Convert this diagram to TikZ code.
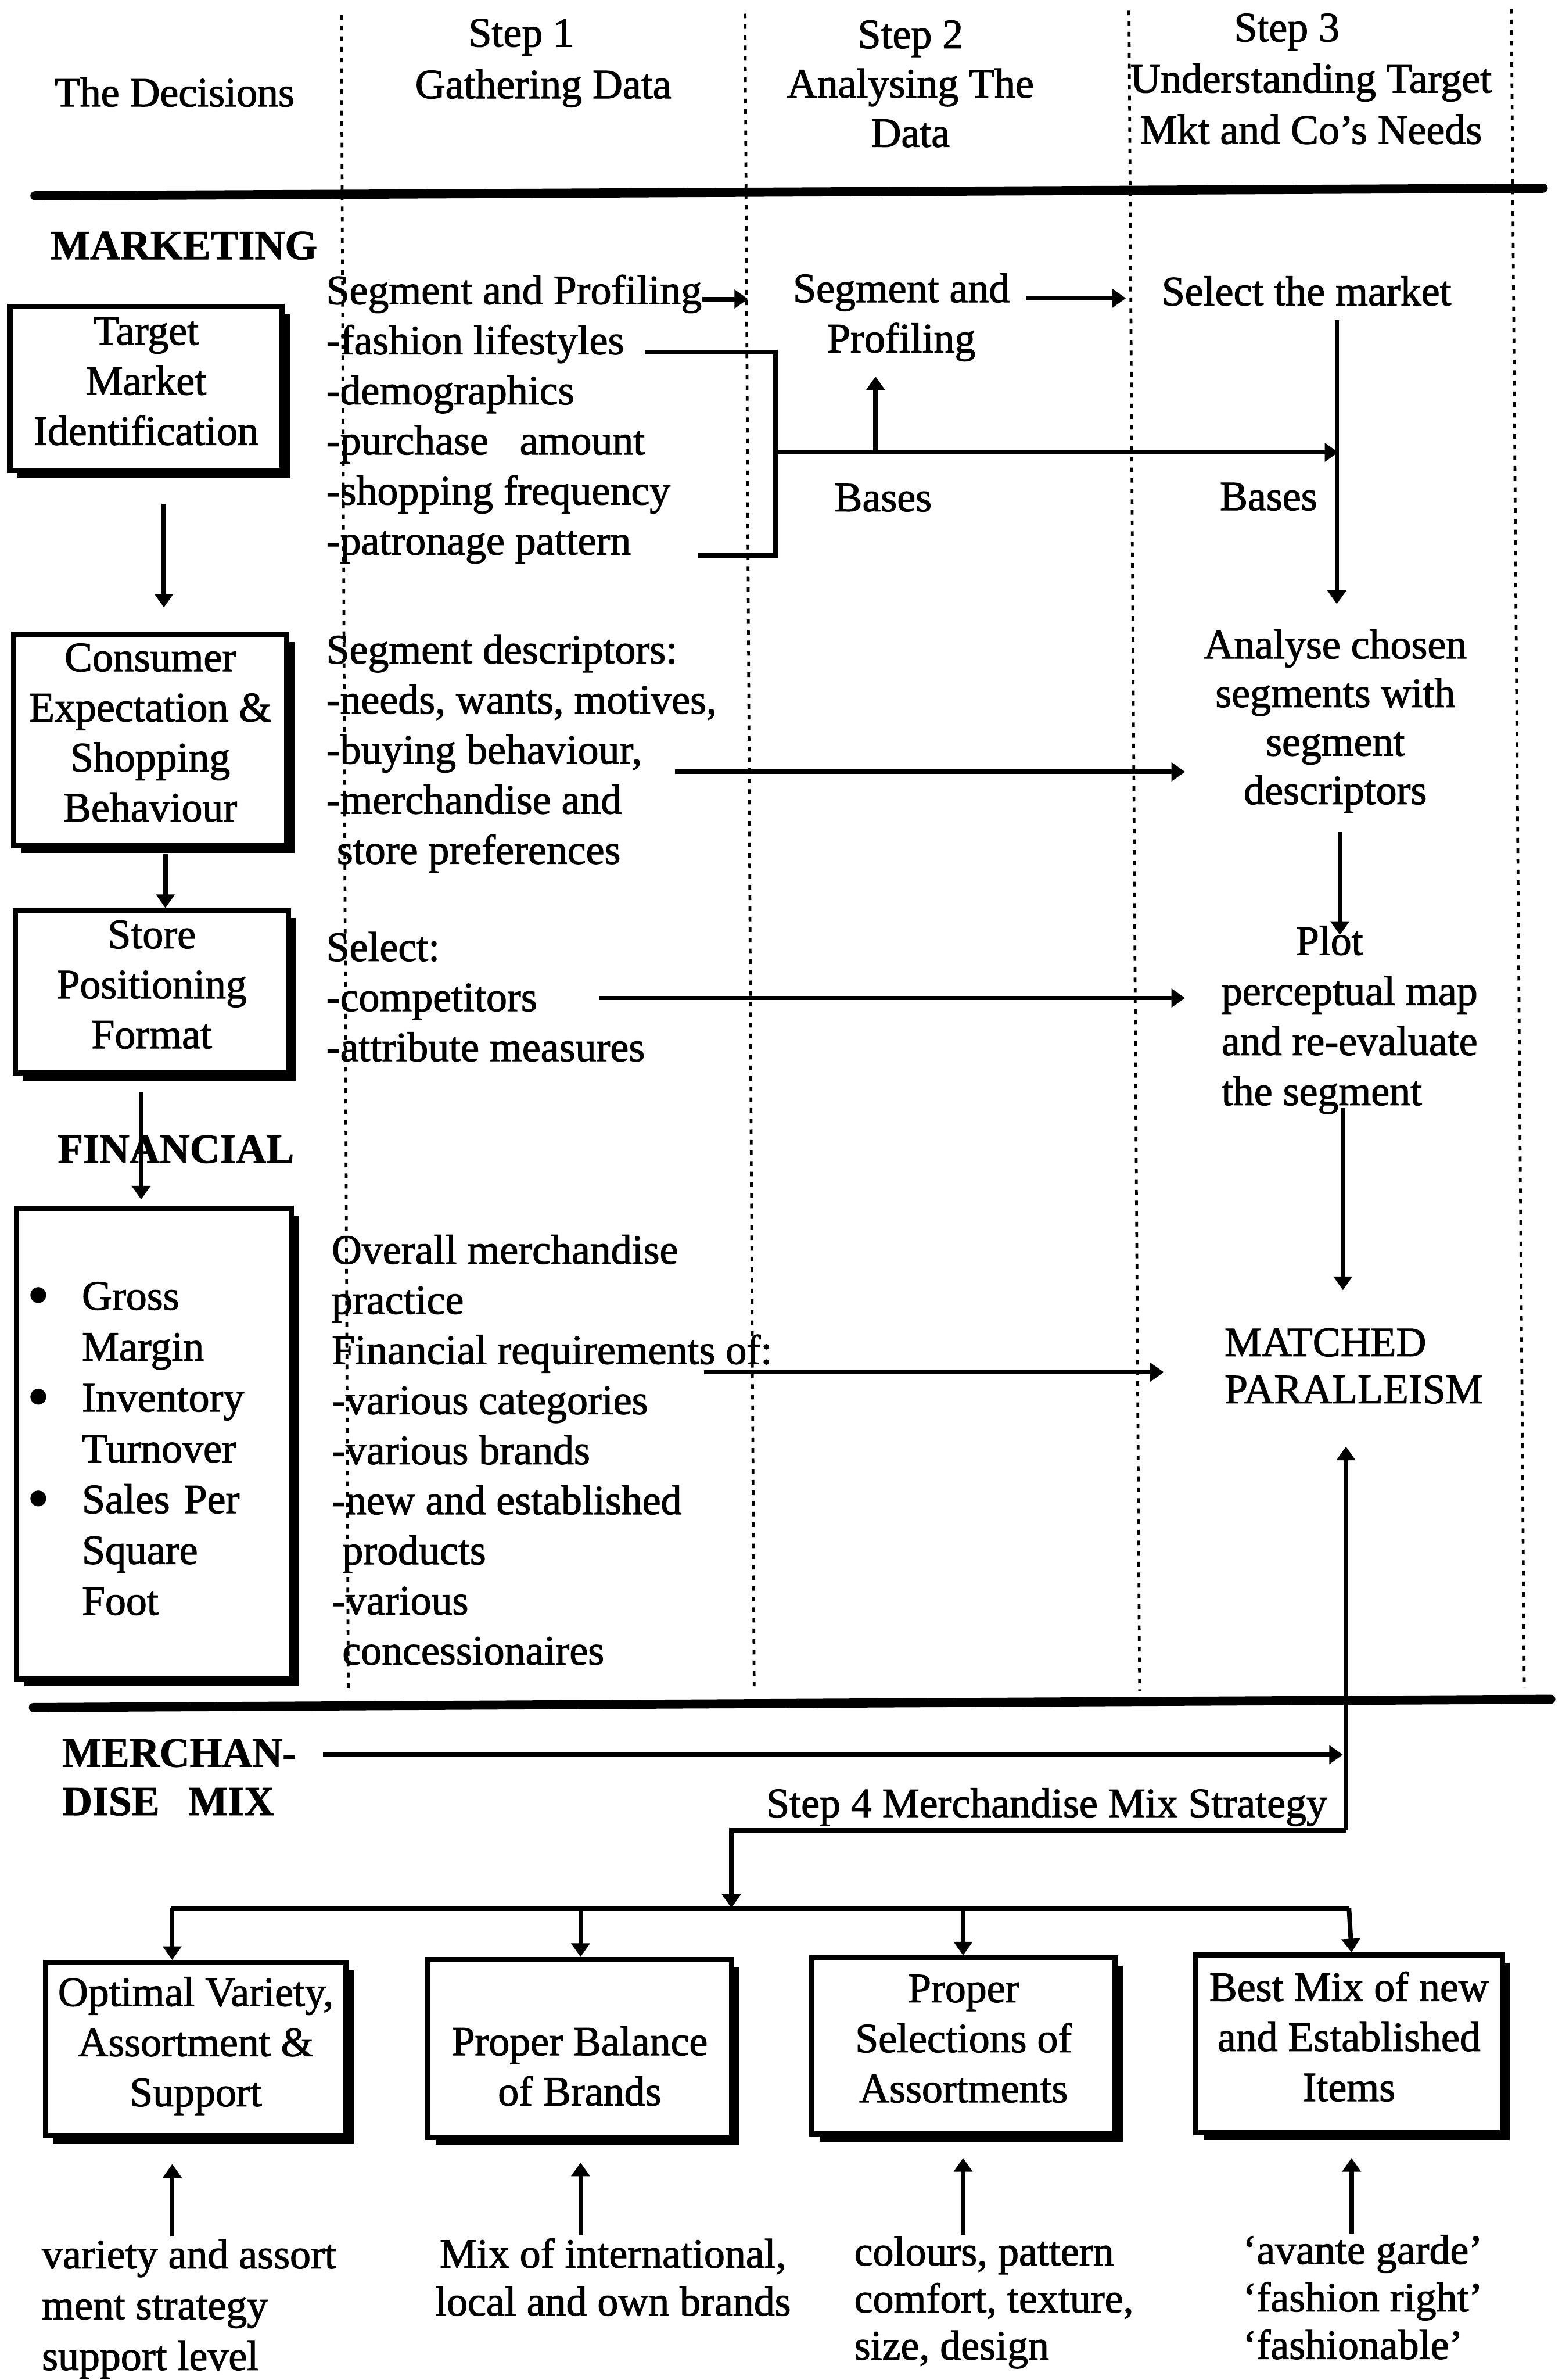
\documentclass[tikz,border=0pt]{standalone}
\usepackage{fontspec}
\setmainfont{Liberation Serif}[UprightFeatures={FakeBold=1.5},BoldFeatures={FakeBold=1}]
\usetikzlibrary{arrows.meta,shadows}
% body size with a chosen line spacing
\newcommand\fsz[1]{\fontsize{27.5}{#1}\selectfont}
\newcommand\bulmark{\makebox[36.5pt][l]{\hspace{0.5pt}\raisebox{-4pt}{\scalebox{1.5}{\textbullet}}}}
\newcommand\bulgap{\hspace*{36.5pt}}

\begin{document}
\begin{tikzpicture}[x=1pt, y=-1pt,
  txt/.style={inner sep=0pt, outer sep=0pt, align=left, anchor=north west,
              font=\fsz{33}, execute at begin node=\strut},
  ctxt/.style={txt, align=center, anchor=north},
  hd/.style={font={\fsz{33}\bfseries}},
  frame/.style={draw, fill=white, line width=3.5pt, inner sep=0pt,
                drop shadow={shadow xshift=5pt, shadow yshift=-5pt, fill=black, opacity=1}},
  box/.style={frame, align=center, font=\fsz{33},
              execute at begin node=\strut, execute at end node=\strut},
  sep/.style={line width=6pt, line cap=round},
  col/.style={line width=1.8pt, dash pattern=on 3pt off 4pt},
  ln/.style={line width=3pt},
  arr/.style={ln, -{Triangle[length=9pt,width=12pt]}},
]
\useasboundingbox (0,0) rectangle (1029,1568);
\fill[white] (0,0) rectangle (1029,1568);

% column rules and section separators
\draw[col] (225,10) -- (229.5,1114);
\draw[col] (491,9) -- (497,1114);
\draw[col] (744,7) -- (751,1114);
\draw[col] (996,6) -- (1004.5,1112);
\draw[sep] (23,129) -- (1017,124);
\draw[sep] (22,1125) -- (1022,1119.5);

% column headings
\node[ctxt] (hDec) at (115,47) {The Decisions};
\node[ctxt, font=\fsz{34}] (hS1) at (358,12.5) {Step 1\hspace*{29pt}\\Gathering Data};
\node[ctxt, font=\fsz{32.5}] (hS2) at (600,13.5) {Step 2\\Analysing The\\Data};
\node[ctxt, font=\fsz{33.75}] (hS3) at (864,9) {Step 3\hspace*{32pt}\\Understanding Target\\Mkt and Co's Needs};

% section labels
\node[txt, hd] (mkt) at (33.4,147.7) {MARKETING};
\node[txt, hd] (fin) at (38,743) {FINANCIAL};
\node[txt, font={\fsz{32}\bfseries}] (mer) at (41,1145.7) {MERCHAN-\\DISE\hspace*{19pt}MIX};

% decision boxes
\node[box, minimum width=179.5pt, minimum height=108pt] (box1) at (96.25,256) {Target\\Market\\Identification};
\node[box, minimum width=180pt, minimum height=139pt] (box2) at (99,487.5) {Consumer\\Expectation \&\\Shopping\\Behaviour};
\node[box, minimum width=180pt, minimum height=107pt] (box3) at (100,653.5) {Store\\Positioning\\Format};
\node[frame, text width=168pt, align=left, inner xsep=6.5pt, inner ysep=0pt, font=\fsz{33.5},
      minimum width=181pt, minimum height=310pt] (box4) at (101.5,951)
  {\rule{0pt}{25pt}\bulmark Gross\\\bulgap Margin\\\bulmark Inventory\\\bulgap Turnover\\\bulmark Sales Per\\\bulgap Square\\\bulgap Foot};

% step 1 data lists
\node[txt] (sA) at (215,181) {Segment and Profiling\\-fashion lifestyles\\-demographics\\-purchase\ \ \ amount\\-shopping frequency\\-patronage pattern};
\node[txt] (sB) at (215,418) {Segment descriptors:\\-needs, wants, motives,\\-buying behaviour,\\-merchandise and\\\hspace*{7pt}store preferences};
\node[txt] (sC) at (215,614) {Select:\\-competitors\\-attribute measures};
\node[txt] (sD) at (218.6,813.5) {Overall merchandise\\practice\\Financial requirements of:\\-various categories\\-various brands\\-new and established\\\hspace*{7pt}products\\-various\\\hspace*{7pt}concessionaires};

% step 2 and step 3 entries
\node[ctxt] (s2) at (594,180) {Segment and\\Profiling};
\node[ctxt] (b2) at (582,313.7) {Bases};
\node[ctxt] (s3) at (861,178) {Select the market};
\node[ctxt] (b3) at (836,313) {Bases};
\node[ctxt, font=\fsz{32}] (an) at (880,414.7) {Analyse chosen\\segments with\\segment\\descriptors};
\node[txt] (pl) at (805,610) {\hspace*{49pt}Plot\\perceptual map\\and re-evaluate\\the segment};
\node[txt, font=\fsz{31}] (mp) at (807,875.2) {MATCHED\\PARALLEISM};
\node[txt] (s4) at (505,1174) {Step 4 Merchandise Mix Strategy};

% merchandise mix boxes
\node[box, minimum width=198pt, minimum height=114pt] (box5) at (129,1350) {Optimal Variety,\\Assortment \&\\Support};
\node[box, minimum width=200pt, minimum height=117pt] (box6) at (382,1349.5) {\rule{0pt}{52pt}Proper Balance\\of Brands};
\node[box, minimum width=200pt, minimum height=116pt] (box7) at (635,1348) {Proper\\Selections of\\Assortments};
\node[box, minimum width=202pt, minimum height=117pt] (box8) at (889,1346.5) {Best Mix of new\\and Established\\Items};

% inputs under the boxes
\node[txt, font=\fsz{33.5}] (t5) at (27.6,1475.3) {variety and assort\\ment strategy\\support level};
\node[ctxt, font=\fsz{31.5}] (t6) at (404,1474.6) {Mix of international,\\local and own brands};
\node[txt, font=\fsz{31}] (t7) at (563,1473.4) {colours, pattern\\comfort, texture,\\size, design};
\node[txt, font=\fsz{31.3}] (t8) at (819,1472.4) {`avante garde'\\`fashion right'\\`fashionable'};

% column positions of the vertical links
\coordinate (a5) at (113.5,0);
\coordinate (a6) at (382.6,0);
\coordinate (a7) at (634.7,0);
\coordinate (a8) at (890.7,0);
\coordinate (bus) at (482,1257);
\coordinate (hub) at (887,1206);

% decision chain
\draw[arr, shorten <=20pt, shorten >=16pt] ([xshift=11.75pt]box1.south) -- ([xshift=9pt]box2.north);
\draw[arr, shorten <=4pt] ([xshift=10pt]box2.south) -- ([xshift=9pt]box3.north);
\draw[arr, shorten <=11pt, shorten >=4pt] ([xshift=-7pt]box3.south) -- ([xshift=-8.5pt]box4.north);

% marketing flows
\draw[arr] (463,197) -- (493,197);
\draw[ln] (425,232) -| (511,366) -- (460,366);
\draw[arr] (511,298) -- (882,298);
\draw[arr] (577,298) -- (577,248);
\draw[arr] (676,196.5) -- (742,196.5);
\draw[arr] (881,211) -- (881,398);
\draw[arr] (445,508.5) -- (781,508.5);
\draw[arr] (883,548) -- (883,616);
\draw[arr] (395,657.5) -- (781,657.5);
\draw[arr] (885,730) -- (885,850);

% financial flow
\draw[arr] (464,904) -- (767,904);

% merchandise mix flows
\draw[arr] (hub) -- (887,953);
\draw[arr] (213,1156) -- (885,1156);
\draw[arr] (hub) -- (482,1206) -- (bus);
\draw[ln] (113,1257) -- (889,1257);
\draw[arr] (113.5,1257) -- (box5.north -| a5);
\draw[arr] (382.6,1257) -- (box6.north -| a6);
\draw[arr] (634.7,1257) -- (box7.north -| a7);
\draw[arr] (889,1257) -- (box8.north -| a8);

% supporting inputs
\draw[arr, shorten <=2pt, shorten >=17pt] (t5.north -| a5) -- (box5.south -| a5);
\draw[arr, shorten <=2pt, shorten >=15pt] (t6.north -| a6) -- (box6.south -| a6);
\draw[arr, shorten <=1pt, shorten >=14pt] (t7.north -| a7) -- (box7.south -| a7);
\draw[arr, shorten <=1pt, shorten >=15pt] (t8.north -| a8) -- (box8.south -| a8);
\end{tikzpicture}
\end{document}
